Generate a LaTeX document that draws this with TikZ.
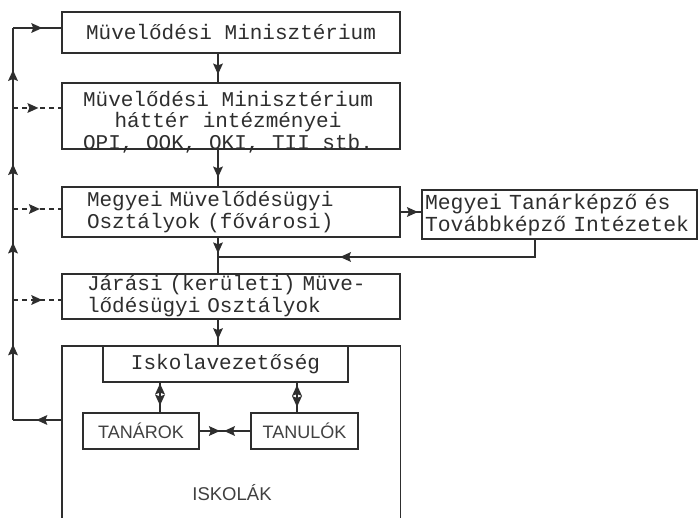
\documentclass[tikz,border=0pt]{standalone}
\usepackage{fontspec}
\setmainfont{Liberation Sans}
\newfontfamily\typewr{Liberation Mono}
\usetikzlibrary{decorations.markings}

\tikzset{
  ink/.style={draw=black!82, line width=1.1pt},
  box/.style={ink, rectangle, inner sep=0pt, text=black!82,
    font=\typewr\fontsize{21}{22}\selectfont},
  sansbox/.style={ink, rectangle, inner sep=0pt, text=black!75,
    font=\fontsize{18}{20}\selectfont},
  % filled triangular heads placed along a line
  midarr/.style={postaction={decorate,decoration={markings,
    mark=at position #1 with {\fill[black!82, solid]
      (5pt,0pt) -- (-6pt,5pt) -- (-4pt,0pt) -- (-6pt,-5pt) -- cycle;}}}},
  midrev/.style={postaction={decorate,decoration={markings,
    mark=at position #1 with {\fill[black!82, solid]
      (-5pt,0pt) -- (6pt,5pt) -- (4pt,0pt) -- (6pt,-5pt) -- cycle;}}}},
  branch/.style={ink, dash pattern=on 5pt off 4pt},
}

\begin{document}
\begin{tikzpicture}[x=1pt,y=-1pt]
\useasboundingbox (0,0) rectangle (699,518);
\fill[white] (0,0) rectangle (699,518);

% hierarchy of offices
\node[box, minimum width=338pt, minimum height=41pt] (mm) at (231,32.5)
  {Müvelődési Minisztérium};
\node[box, minimum width=338pt, minimum height=66pt] (bg) at (231,116) {};
\node[font=\typewr\fontsize{21}{21.5}\selectfont, text=black!82, align=center,
  inner sep=0pt] (bgtext) at (228,122)
  {Müvelődési Minisztérium\\háttér intézményei\\OPI, OOK, OKI, TII stb.};
\node[box, minimum width=338pt, minimum height=50pt, text width=288pt,
  inner xsep=25pt, align=left] (megyei) at (231,212)
  {Megyei Müvelődésügyi\\Osztályok (fővárosi)};
\node[box, minimum width=275pt, minimum height=49pt, text width=269pt,
  inner xsep=3pt, align=left, font=\typewr\fontsize{21.4}{22}\selectfont]
  (tk) at (559.5,214.5)
  {Megyei Tanárképző és\\Továbbképző Intézetek};
\node[box, minimum width=338pt, minimum height=45pt, text width=288pt,
  inner xsep=25pt, align=left] (jarasi) at (231,296.5)
  {Járási (kerületi) Müve-\\lődésügyi Osztályok};

% the school frame, open at the bottom
\node[minimum width=338pt, minimum height=172pt, anchor=north west,
  inner sep=0pt] (iskola) at (62,346) {};
\draw[ink] (iskola.south west) -- (iskola.north west) -- (iskola.north east)
  -- (iskola.south east);
\node[box, minimum width=245pt, minimum height=36pt] (isv) at (225.5,364)
  {Iskolavezetőség};
\node[sansbox, minimum width=116pt, minimum height=36pt] (tanarok) at (141,431)
  {TANÁROK};
\node[sansbox, minimum width=107pt, minimum height=36pt] (tanulok) at (304.5,431)
  {TANULÓK};
\node[inner sep=0pt, text=black!75, font=\fontsize{18.5}{20}\selectfont]
  (isklabel) at (232,493) {ISKOLÁK};

% guide coordinates
\coordinate (axis) at (218,0);
\coordinate (tkx) at (535,0);
\coordinate (join) at (218,257);
\coordinate (tv) at (160,0);
\coordinate (uv) at (297,0);
\coordinate (sptop) at (13,28);
\coordinate (spbot) at (13,420);
\coordinate (b2) at (13,108);
\coordinate (b3) at (13,209);
\coordinate (b5) at (13,300);
\coordinate (tkin) at (400,212);

% downward chain
\draw[ink, midarr=0.55] (mm.south -| axis) -- (bg.north -| axis);
\draw[ink, midarr=0.62] (bg.south -| axis) -- (megyei.north -| axis);
\draw[ink, midarr=0.3] (megyei.south -| axis) -- (jarasi.north -| axis);
\draw[ink, midarr=0.55] (jarasi.south -| axis) -- (iskola.north -| axis);
\draw[ink, midarr=0.6] (tkin) -- (tk.west |- tkin);
\draw[ink, midarr=0.62] (tk.south -| tkx) |- (join);

% feedback line on the left
\draw[ink, midarr=0.42] (iskola.west |- spbot) -- (spbot);
\draw[ink, midarr=0.18, midarr=0.44, midarr=0.64, midarr=0.88] (spbot) -- (sptop);
\draw[ink, midarr=0.5] (sptop) -- (mm.west |- sptop);
\draw[branch, midarr=0.42] (b2) -- (bg.west |- b2);
\draw[branch, midarr=0.45] (b3) -- (megyei.west |- b3);
\draw[branch, midarr=0.5] (b5) -- (jarasi.west |- b5);

% relations inside the school
\draw[ink, midarr=0.8, midrev=0.4] (tanarok.north -| tv) -- (isv.south -| tv);
\draw[ink, midarr=0.75, midrev=0.35] (tanulok.north -| uv) -- (isv.south -| uv);
\draw[ink, midarr=0.3, midrev=0.58] (tanarok.east) -- (tanulok.west);
\end{tikzpicture}
\end{document}
